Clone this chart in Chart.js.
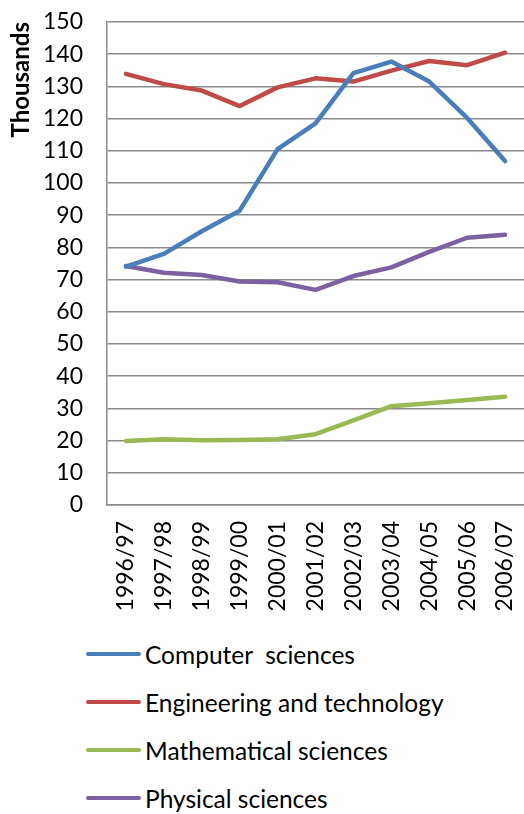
<!DOCTYPE html>
<html>
<head>
<meta charset="utf-8">
<script src="https://cdn.jsdelivr.net/npm/chart.js@4.4.0/dist/chart.umd.min.js"></script>
<style>
  html, body { margin: 0; padding: 0; background: #fff; }
  #wrap { position: relative; width: 524px; height: 814px; }
  #chartBox { position: absolute; left: 0; top: 0; width: 524px; height: 630px; }
  #legend { position: absolute; left: 86px; top: 629px; font-family: Lato, sans-serif; font-size: 24.5px; color: #000; }
  .item { position: absolute; left: 0; height: 30px; display: flex; align-items: center; white-space: pre; }
  .swatch { width: 55px; height: 4px; border-radius: 2px; margin-right: 4px; }
</style>
</head>
<body>
<div id="wrap">
  <div id="chartBox"><canvas id="lineChart"></canvas></div>
  <div id="legend"></div>
</div>
<script>
// Academic years
const years = ['1996/97', '1997/98', '1998/99', '1999/00', '2000/01', '2001/02',
  '2002/03', '2003/04', '2004/05', '2005/06', '2006/07'];

// Values in thousands
const computerSciences = [74, 78, 85, 91.4, 110.5, 118.5, 134.1, 137.7, 131.5, 120.2, 106.8];
const engineering = [133.9, 130.7, 128.7, 123.9, 129.7, 132.5, 131.5, 134.9, 137.9, 136.6, 140.5];
const mathematical = [19.9, 20.4, 20.1, 20.2, 20.4, 22, 26.3, 30.7, 31.6, 32.6, 33.6];
const physical = [74.2, 72.1, 71.4, 69.4, 69.2, 66.8, 71.1, 73.8, 78.6, 83, 83.9];

const seriesNames = ['Computer  sciences', 'Engineering and technology', 'Mathematical sciences', 'Physical sciences'];
const seriesColors = ['#4a7ebb', '#be4b48', '#98b954', '#7d60a0'];
const yTicks = [0, 10, 20, 30, 40, 50, 60, 70, 80, 90, 100, 110, 120, 130, 140, 150];

const seriesData = [computerSciences, engineering, mathematical, physical];
const gridGray = '#8a8a8a';

const ctx = document.getElementById('lineChart').getContext('2d');
const chart = new Chart(ctx, {
  type: 'line',
  data: {
    labels: years,
    datasets: seriesData.map((d, i) => ({
      label: seriesNames[i],
      data: d,
      borderColor: seriesColors[i],
      backgroundColor: seriesColors[i],
      borderWidth: 4.5,
      pointRadius: 0,
      tension: 0,
      borderCapStyle: 'round',
      borderJoinStyle: 'round'
    }))
  },
  options: {
    responsive: true,
    maintainAspectRatio: false,
    animation: false,
    layout: { padding: { top: 22, right: 0, left: 0, bottom: 0 } },
    plugins: {
      legend: { display: false },
      tooltip: { enabled: false }
    },
    scales: {
      x: {
        offset: true,
        grid: { display: false },
        border: { display: true, color: gridGray, width: 1.5 },
        ticks: {
          color: '#000',
          font: { family: 'Lato', size: 23 },
          minRotation: 90,
          maxRotation: 90,
          autoSkip: false,
          padding: 8
        },
        afterFit: scale => {
          scale.height = 125;
          scale.paddingLeft = 0;
          scale.paddingRight = 0;
          scale.paddingTop = 0;
          scale.paddingBottom = 0;
        }
      },
      y: {
        min: 0,
        max: 150,
        afterBuildTicks: scale => { scale.ticks = yTicks.map(v => ({ value: v })); },
        grid: { color: gridGray, lineWidth: 1.5, drawTicks: false },
        border: { display: true, color: gridGray, width: 1.5 },
        ticks: {
          color: '#000',
          font: { family: 'Lato', size: 23 },
          padding: 24
        },
        title: {
          display: true,
          text: 'Thousands',
          align: 'end',
          color: '#000',
          font: { family: 'Lato', size: 24, weight: 'bold' },
          padding: { top: 7, bottom: 0 }
        },
        afterFit: scale => {
          scale.width = 107;
          scale.paddingTop = 0;
          scale.paddingBottom = 0;
        }
      }
    }
  }
});

// Vertical legend below the chart
const legend = document.getElementById('legend');
const legendTops = [10, 58, 106, 154];
chart.data.datasets.forEach((ds, i) => {
  const item = document.createElement('div');
  item.className = 'item';
  item.style.top = legendTops[i] + 'px';
  item.innerHTML = `<span class="swatch" style="background:${ds.borderColor}"></span><span>${ds.label}</span>`;
  legend.appendChild(item);
});
</script>
</body>
</html>
